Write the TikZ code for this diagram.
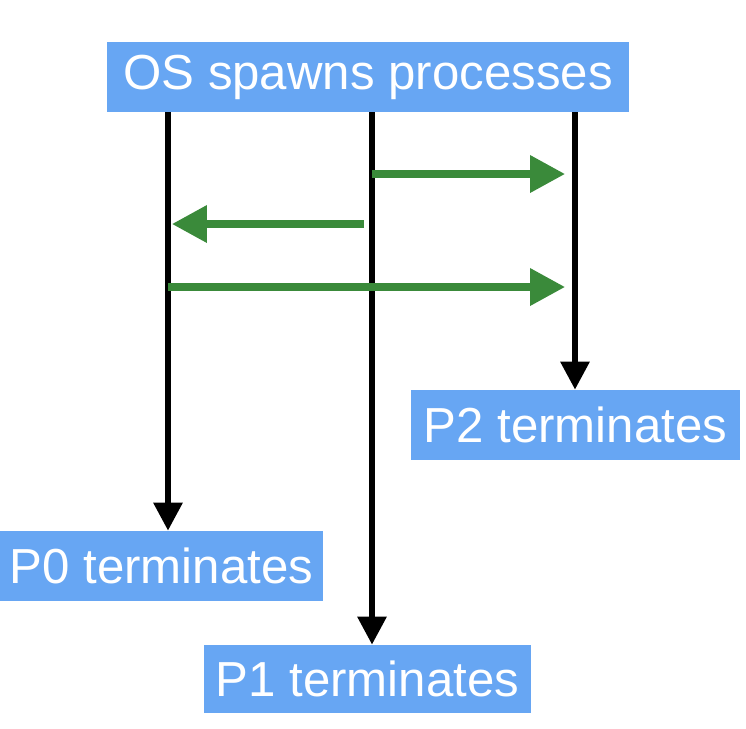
\documentclass[tikz,border=0pt]{standalone}
\usepackage{fontspec}
\setmainfont{Liberation Sans}
\usetikzlibrary{arrows.meta}
\definecolor{boxblue}{RGB}{103,166,243}
\definecolor{msggreen}{RGB}{58,138,58}

\begin{document}
\begin{tikzpicture}[x=0.02cm, y=-0.02cm,
        box/.style={fill=boxblue, text=white, inner sep=0pt, font=\fontsize{28}{33}\selectfont},
        life/.style={line width=3.4pt, -{Triangle[length=0.56cm, width=0.56cm]}},
        msg/.style={line width=4pt, draw=msggreen, -{Triangle[length=0.7cm, width=0.72cm, fill=msggreen]}}]
        \useasboundingbox (0,0) rectangle (746,728);

        \node[box, minimum width=10.44cm, minimum height=1.4cm] (os) at (368,77) {OS spawns processes};
        \node[box, minimum width=6.58cm, minimum height=1.4cm] (p2) at (575.5,425) {P2 terminates};
        \node[box, minimum width=6.46cm, minimum height=1.4cm] (p0) at (161.5,566) {P0 terminates};
        \node[box, minimum width=6.54cm, minimum height=1.36cm] (p1) at (367.5,679) {P1 terminates};

        % x positions of the three processes
        \coordinate (x0) at (168,0);
        \coordinate (x1) at (372,0);
        \coordinate (x2) at (575,0);

        \draw[life] (os.south -| x0) -- (p0.north -| x0);
        \draw[life] (os.south -| x1) -- (p1.north -| x1);
        \draw[life] (os.south -| x2) -- (p2.north -| x2);

        % messages
        \coordinate (a1) at (372,174);
        \coordinate (b1) at (565,174);
        \coordinate (a2) at (364,224);
        \coordinate (b2) at (172,224);
        \coordinate (a3) at (168,287);
        \coordinate (b3) at (565,287);

        \draw[msg] (a1) -- (b1);
        \draw[msg] (a2) -- (b2);
        \draw[msg] (a3) -- (b3);
    \end{tikzpicture}
\end{document}
